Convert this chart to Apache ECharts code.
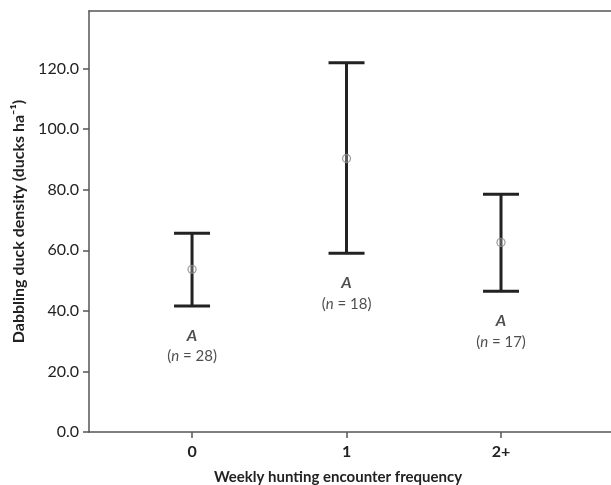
<!DOCTYPE html>
<html><head><meta charset="utf-8">
<script src="https://cdn.jsdelivr.net/npm/echarts@6/dist/echarts.min.js"></script>
<style>html,body{margin:0;padding:0;background:#fff}#c{width:611px;height:485px}</style>
</head><body><div id="c"></div>
<script>
var categories = ['0', '1', '2+'];
var means = [53.7, 90.3, 62.6];
var lower = [41.6, 59.0, 46.5];
var upper = [65.6, 121.9, 78.5];
var groupLetters = ['A', 'A', 'A'];
var sampleSizes = [28, 18, 17];
var yTicks = [0, 20, 40, 60, 80, 100, 120];

var chart = echarts.init(document.getElementById('c'), null, {renderer: 'canvas'});
var font = 'Lato, "Open Sans", sans-serif';
var axisCol = '#555';
var txt = '#222';

var barData = categories.map(function (c, i) { return [i, lower[i], upper[i]]; });
var meanData = categories.map(function (c, i) { return [i, means[i]]; });
var labelData = categories.map(function (c, i) { return [i, lower[i]]; });

chart.setOption({
  backgroundColor: '#fff',
  animation: false,
  grid: {left: 89, right: 0, top: 11, bottom: 53, show: false, containLabel: false, outerBoundsMode: 'none'},
  xAxis: [{
    type: 'value', min: -0.667, max: 2.712,
    splitLine: {show: false},
    axisLine: {show: true, lineStyle: {color: axisCol, width: 1.5}},
    axisTick: {show: true, customValues: [0, 1, 2], length: 6, lineStyle: {color: axisCol, width: 1.5}},
    axisLabel: {customValues: [0, 1, 2], formatter: function (v) { return categories[Math.round(v)]; },
      fontFamily: font, fontSize: 16, fontWeight: 'bold', color: txt, margin: 12},
    name: 'Weekly hunting encounter frequency', nameLocation: 'middle', nameGap: 38,
    nameTextStyle: {fontFamily: font, fontSize: 15, fontWeight: 'bold', color: txt, padding: [0, 24, 0, 0]}
  }, {
    type: 'value', position: 'top', min: -0.667, max: 2.712,
    splitLine: {show: false},
    axisLine: {show: true, lineStyle: {color: axisCol, width: 1.5}},
    axisTick: {show: false}, axisLabel: {show: false}
  }],
  yAxis: {
    type: 'value', min: 0, max: 139,
    splitLine: {show: false},
    axisLine: {show: true, onZero: false, lineStyle: {color: axisCol, width: 1.5}},
    axisTick: {show: true, customValues: yTicks, length: 6, lineStyle: {color: axisCol, width: 1.5}},
    axisLabel: {customValues: yTicks, formatter: function (v) { return v.toFixed(1); },
      fontFamily: font, fontSize: 16, color: txt, margin: 10},
    name: 'Dabbling duck density (ducks ha\u207B\u00B9)', nameLocation: 'middle', nameGap: 62,
    nameTextStyle: {fontFamily: font, fontSize: 16, fontWeight: 'bold', color: txt}
  },
  series: [
    {
      type: 'custom',
      data: barData,
      renderItem: function (params, api) {
        var x = api.value(0);
        var lo = api.coord([x, api.value(1)]);
        var hi = api.coord([x, api.value(2)]);
        var hw = 18;
        var st = {stroke: '#222', lineWidth: 3, fill: null};
        return {
          type: 'group',
          children: [
            {type: 'line', shape: {x1: lo[0], y1: lo[1], x2: hi[0], y2: hi[1]}, style: st},
            {type: 'line', shape: {x1: hi[0] - hw, y1: hi[1], x2: hi[0] + hw, y2: hi[1]}, style: st},
            {type: 'line', shape: {x1: lo[0] - hw, y1: lo[1], x2: lo[0] + hw, y2: lo[1]}, style: st}
          ]
        };
      },
      z: 2
    },
    {
      type: 'scatter',
      data: meanData,
      symbol: 'circle', symbolSize: 8,
      itemStyle: {color: 'rgba(255,255,255,0.3)', borderColor: '#888', borderWidth: 1.3},
      z: 3
    },
    {
      type: 'scatter',
      data: labelData,
      symbolSize: 0,
      silent: true,
      label: {
        show: true, position: 'bottom', distance: 19,
        formatter: function (p) {
          var i = p.dataIndex;
          return '{a|' + groupLetters[i] + '}\n{p|(}{n|n}{p| = ' + sampleSizes[i] + ')}';
        },
        rich: {
          a: {fontFamily: font, fontSize: 16, fontWeight: 'bold', fontStyle: 'italic', color: txt, lineHeight: 21, align: 'center'},
          p: {fontFamily: font, fontSize: 15, color: txt, lineHeight: 21},
          n: {fontFamily: font, fontSize: 15, fontStyle: 'italic', color: txt, lineHeight: 21}
        }
      },
      z: 3
    }
  ]
});
</script></body></html>
